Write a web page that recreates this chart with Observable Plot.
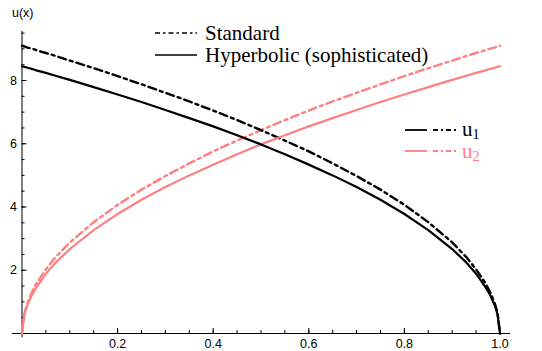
<!DOCTYPE html>
<html>
<head>
<meta charset="utf-8">
<script src="https://cdn.jsdelivr.net/npm/d3@7"></script>
<script src="https://cdn.jsdelivr.net/npm/@observablehq/plot@0.6"></script>
<style>
  body { margin: 0; background: #fff; }
  #wrap { position: relative; width: 542px; height: 351px; }
  .leg { position: absolute; font-family: "Liberation Serif", "Times New Roman", serif; font-size: 21px; line-height: 1; white-space: nowrap; }
  .leg sub { font-size: 14px; line-height: 0; vertical-align: -3px; }
  .ylab { position: absolute; font-family: "Liberation Sans", Arial, sans-serif; font-size: 12.5px; }
</style>
</head>
<body>
<div id="wrap"></div>
<script>
// x positions where values were read
const xs = [0, 0.005, 0.01, 0.02, 0.03, 0.05, 0.07, 0.1, 0.15, 0.2, 0.25, 0.3, 0.35, 0.4, 0.45, 0.5,
  0.55, 0.6, 0.65, 0.7, 0.75, 0.8, 0.85, 0.9, 0.93, 0.95, 0.97, 0.98, 0.99, 0.995, 1.0];
// Hyperbolic (sophisticated)
const u1Hyper = [8.45, 8.43, 8.41, 8.37, 8.32, 8.24, 8.15, 8.02, 7.79, 7.56, 7.32, 7.07, 6.81, 6.55, 6.27, 5.98,
  5.67, 5.34, 5.00, 4.63, 4.23, 3.78, 3.27, 2.67, 2.24, 1.89, 1.46, 1.20, 0.85, 0.60, 0];
const u2Hyper = [0, 0.60, 0.85, 1.20, 1.46, 1.89, 2.24, 2.67, 3.27, 3.78, 4.23, 4.63, 5.00, 5.34, 5.67, 5.98,
  6.27, 6.55, 6.81, 7.07, 7.32, 7.56, 7.79, 8.02, 8.15, 8.24, 8.32, 8.37, 8.41, 8.43, 8.45];
// Standard
const u1Std = [9.10, 9.08, 9.05, 9.01, 8.96, 8.87, 8.78, 8.63, 8.39, 8.14, 7.88, 7.61, 7.34, 7.05, 6.75, 6.43,
  6.10, 5.76, 5.38, 4.98, 4.55, 4.07, 3.52, 2.88, 2.41, 2.03, 1.58, 1.29, 0.91, 0.64, 0];
const u2Std = [0, 0.64, 0.91, 1.29, 1.58, 2.03, 2.41, 2.88, 3.52, 4.07, 4.55, 4.98, 5.38, 5.76, 6.10, 6.43,
  6.75, 7.05, 7.34, 7.61, 7.88, 8.14, 8.39, 8.63, 8.78, 8.87, 8.96, 9.01, 9.05, 9.08, 9.10];

const xMajor = [0.2, 0.4, 0.6, 0.8, 1.0];
const xMinor = d3.range(0, 1.0001, 0.05);
const yMajor = [2, 4, 6, 8];
const yMinor = d3.range(0, 9.51, 0.5);

const BLACK = "#000";
const RED = "#ff8080";
const DASH = "8,4,3,4";

const mk = (ys) => xs.map((x, i) => ({x, u: ys[i]}));

const chart = Plot.plot({
  width: 542,
  height: 351,
  marginLeft: 21.5,
  marginRight: 32,
  marginTop: 31,
  marginBottom: 18,
  x: {domain: [0, 1.022], axis: null},
  y: {domain: [0, 9.55], axis: null},
  style: {fontFamily: "'Liberation Sans', Arial, sans-serif", fontSize: "12.5px", background: "white"},
  marks: [
    // axis lines
    Plot.ruleY([0], {x1: -0.02, x2: 1.022, stroke: "#000", strokeWidth: 1}),
    Plot.ruleX([0], {y1: -0.13, y2: 9.55, stroke: "#000", strokeWidth: 1}),
    // x ticks (inward)
    Plot.axisX({ticks: xMinor, tickSize: -3, text: null, label: null, strokeWidth: 1}),
    Plot.axisX({ticks: xMajor, tickSize: -5, text: null, label: null, strokeWidth: 1}),
    Plot.axisX({ticks: xMajor, tickSize: 0, tickPadding: 6, label: null, tickFormat: d3.format(".1f"), fill: "#000"}),
    // y ticks (inward)
    Plot.axisY({ticks: yMinor, tickSize: -3, text: null, label: null, strokeWidth: 1}),
    Plot.axisY({ticks: yMajor, tickSize: -5, text: null, label: null, strokeWidth: 1}),
    Plot.axisY({ticks: yMajor, tickSize: 0, tickPadding: 5, label: null, tickFormat: d3.format("d"), fill: "#000"}),
    // curves
    Plot.line(mk(u2Std), {x: "x", y: "u", stroke: RED, strokeWidth: 2.4, strokeDasharray: DASH}),
    Plot.line(mk(u1Std), {x: "x", y: "u", stroke: BLACK, strokeWidth: 2.4, strokeDasharray: DASH}),
    Plot.line(mk(u2Hyper), {x: "x", y: "u", stroke: RED, strokeWidth: 2.2}),
    Plot.line(mk(u1Hyper), {x: "x", y: "u", stroke: BLACK, strokeWidth: 2.2})
  ]
});

const wrap = document.getElementById("wrap");
wrap.appendChild(chart);

function addHTML(html) {
  const d = document.createElement("div");
  d.innerHTML = html;
  while (d.firstChild) wrap.appendChild(d.firstChild);
}

addHTML(`<div class="ylab" style="left:12px; top:6px;">u(x)</div>`);
addHTML(`
<svg style="position:absolute; left:150px; top:23px;" width="55" height="40">
  <line x1="5" x2="47" y1="10" y2="10" stroke="#000" stroke-width="1.4" stroke-dasharray="5,3,2.5,3"/>
  <line x1="5" x2="47" y1="32" y2="32" stroke="#000" stroke-width="1.4"/>
</svg>
<div class="leg" style="left:205px; top:23px;">Standard</div>
<div class="leg" style="left:205px; top:45px;">Hyperbolic (sophisticated)</div>
<svg style="position:absolute; left:400px; top:120px;" width="62" height="40">
  <line x1="5" x2="27" y1="10" y2="10" stroke="#000" stroke-width="1.8"/>
  <line x1="33" x2="56" y1="10" y2="10" stroke="#000" stroke-width="1.8" stroke-dasharray="5,3,2,3"/>
  <line x1="5" x2="27" y1="31" y2="31" stroke="${RED}" stroke-width="1.8"/>
  <line x1="33" x2="56" y1="31" y2="31" stroke="${RED}" stroke-width="1.8" stroke-dasharray="5,3,2,3"/>
</svg>
<div class="leg" style="left:462px; top:119px;">u<sub>1</sub></div>
<div class="leg" style="left:462px; top:141px; color:${RED};">u<sub>2</sub></div>
`);
</script>
</body>
</html>
